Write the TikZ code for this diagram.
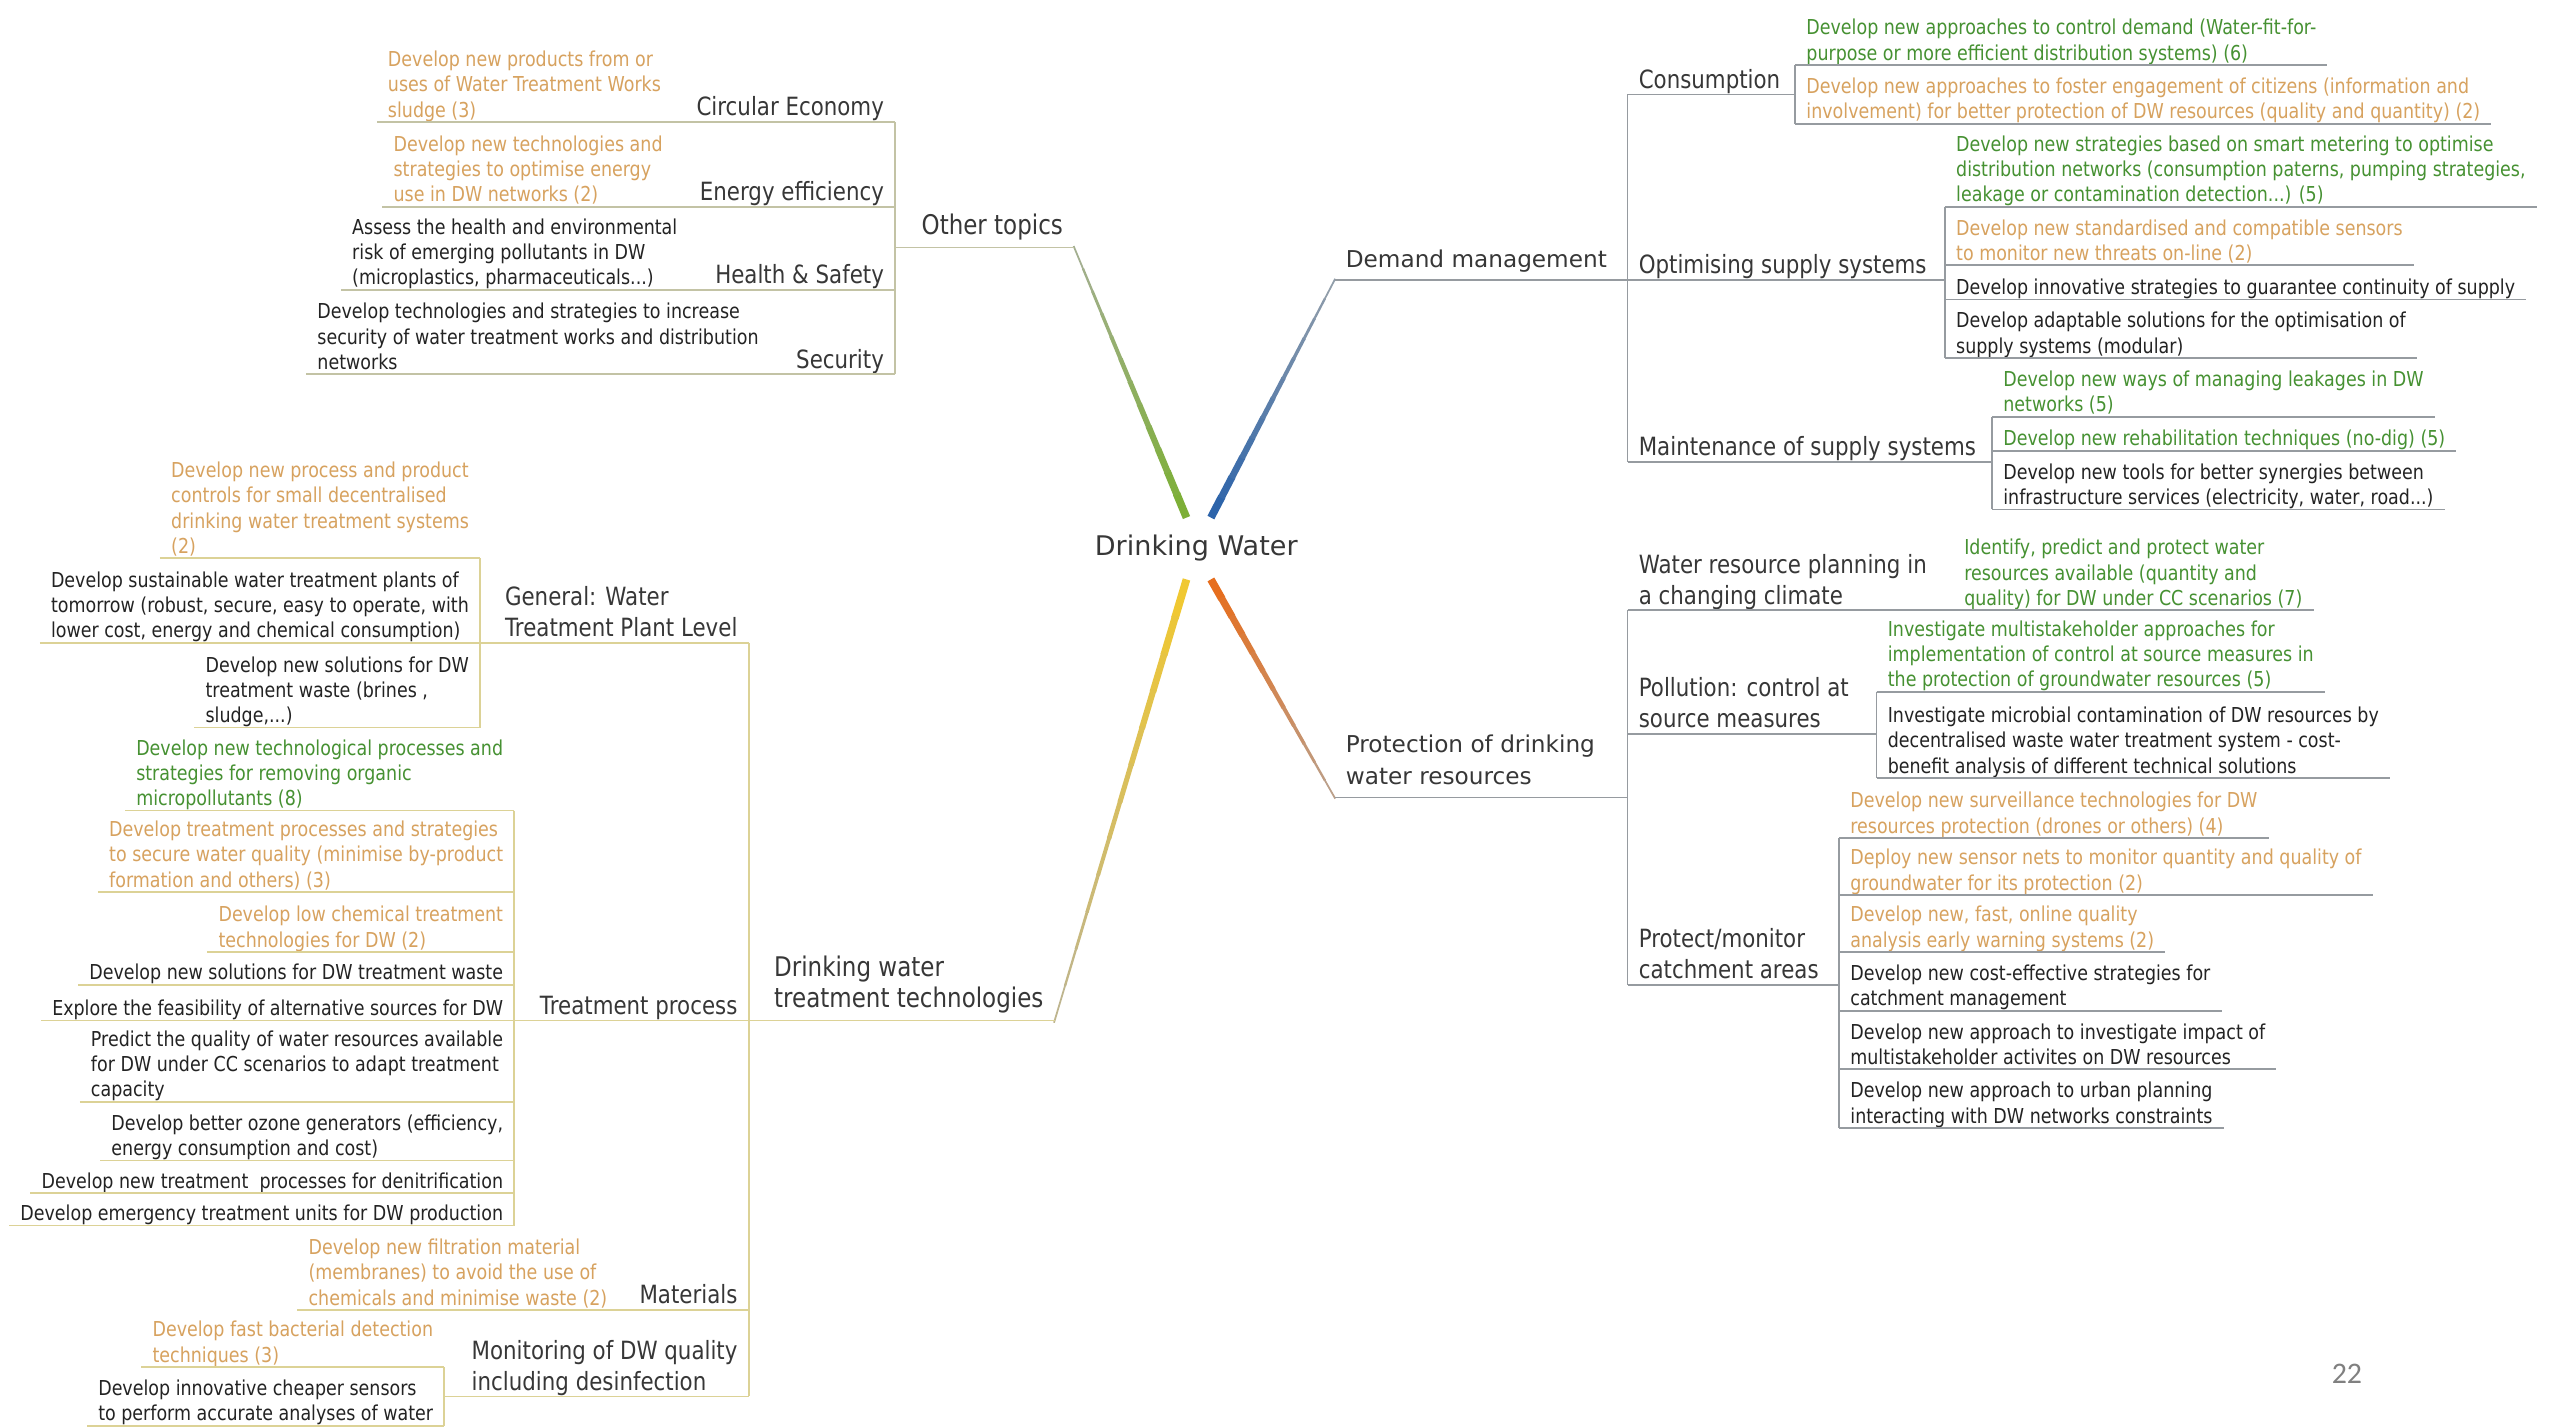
\documentclass[tikz,border=0pt]{standalone}
\usepackage{fontspec}
\usetikzlibrary{calc}
\newfontfamily\leaffont[FakeStretch=0.85]{DejaVu Sans}
\newfontfamily\hubfont{DejaVu Sans}
\newfontfamily\numfont{Carlito}
\definecolor{brgreen}{RGB}{125,175,55}
\definecolor{brblue}{RGB}{45,100,170}
\definecolor{brorange}{RGB}{230,110,30}
\definecolor{bryellow}{RGB}{240,200,50}
\definecolor{linegray}{RGB}{175,175,170}
\definecolor{lineR}{RGB}{150,155,160}
\definecolor{lineL}{RGB}{220,210,150}
\definecolor{lineOT}{RGB}{195,195,165}
\definecolor{txtgreen}{RGB}{70,145,50}
\definecolor{txtorange}{RGB}{215,162,95}
\definecolor{txtdark}{RGB}{35,35,35}
\definecolor{txtlabel}{RGB}{55,55,55}
\begin{document}
\begin{tikzpicture}[x=0.016276cm, y=-0.016276cm,
    leafR/.style={anchor=south west, align=left, inner xsep=3pt, inner ysep=0.6pt, text depth=0.6pt,
                  font=\leaffont\fontsize{5.85}{7.2}\selectfont},
    leafL/.style={leafR, anchor=south east},
    sbrR/.style={anchor=south west, align=left, inner xsep=3pt, inner ysep=1pt, text depth=0.6pt,
                 text=txtlabel, font=\leaffont\fontsize{7.15}{8.8}\selectfont},
    sbrL/.style={sbrR, anchor=south east},
    mbr/.style={anchor=south west, align=left, inner xsep=3pt, inner ysep=1.6pt, text depth=1.8pt,
                text=txtlabel, font=\hubfont\fontsize{6.6}{9.3}\selectfont},
    tbr/.style={anchor=south east, align=left, inner xsep=3pt, inner ysep=1.6pt, text depth=1.8pt,
                text=txtlabel, font=\leaffont\fontsize{7.7}{8.9}\selectfont},
    gtxt/.style={text=txtgreen}, otxt/.style={text=txtorange}, ktxt/.style={text=txtdark},
    ulR/.style={draw=lineR, line width=0.5pt},
    ulL/.style={draw=lineL, line width=0.5pt},
    ulOT/.style={draw=lineOT, line width=0.5pt}]

    \fill[white] (0,0) rectangle (1568,877);
    \useasboundingbox (0,0) rectangle (1568,877);

    % Центр
    \node[text=txtlabel, font=\hubfont\fontsize{7.7}{9}\selectfont] (dw) at (735,337) {Drinking Water};
    \coordinate (hubOT) at (729,318);
    \coordinate (hubDM) at (744,318);
    \coordinate (hubPDW) at (744,356);
    \coordinate (hubDWTT) at (729,356);

    % Ветви
    \node[mbr] (dm) at (820,172) {Demand management};
    \node[mbr] (pdw) at (820,490) {Protection of drinking\\water resources};
    \node[tbr] (ot) at (660,152) {Other topics};
    \node[tbr] (dwtt) at (648,627) {Drinking water\\treatment technologies};

    % Demand management
    \node[sbrR] (cons) at (1000,58) {Consumption};
    \node[sbrR] (opt) at (1000,172) {Optimising supply systems};
    \node[sbrR] (mnt) at (1000,284) {Maintenance of supply systems};
    \node[leafR, gtxt] (cons1) at (1103,40) {Develop new approaches to control demand (Water-fit-for-\\purpose or more efficient distribution systems) (6)};
    \node[leafR, otxt] (cons2) at (1103,76) {Develop new approaches to foster engagement of citizens (information and\\involvement) for better protection of DW resources (quality and quantity) (2)};
    \node[leafR, gtxt] (opt1) at (1195,127) {Develop new strategies based on smart metering to optimise\\distribution networks (consumption paterns, pumping strategies,\\leakage or contamination detection...) (5)};
    \node[leafR, otxt] (opt2) at (1195,163) {Develop new standardised and compatible sensors\\to monitor new threats on-line (2)};
    \node[leafR, ktxt] (opt3) at (1195,184) {Develop innovative strategies to guarantee continuity of supply};
    \node[leafR, ktxt] (opt4) at (1195,220) {Develop adaptable solutions for the optimisation of\\supply systems (modular)};
    \node[leafR, gtxt] (mnt1) at (1224,256) {Develop new ways of managing leakages in DW\\networks (5)};
    \node[leafR, gtxt] (mnt2) at (1224,277) {Develop new rehabilitation techniques (no-dig) (5)};
    \node[leafR, ktxt] (mnt3) at (1224,313) {Develop new tools for better synergies between\\infrastructure services (electricity, water, road...)};

    % Protection of drinking water resources
    \node[sbrR] (wrp) at (1000,375) {Water resource planning in\\a changing climate};
    \node[sbrR] (pol) at (1000,451) {Pollution: control at\\source measures};
    \node[sbrR] (pmc) at (1000,605) {Protect/monitor\\catchment areas};
    \node[leafR, gtxt] (wrp1) at (1200,375) {Identify, predict and protect water\\resources available (quantity and\\quality) for DW under CC scenarios (7)};
    \node[leafR, gtxt] (pol1) at (1153,425) {Investigate multistakeholder approaches for\\implementation of control at source measures in\\the protection of groundwater resources (5)};
    \node[leafR, ktxt] (pol2) at (1153,478) {Investigate microbial contamination of DW resources by\\decentralised waste water treatment system - cost-\\benefit analysis of different technical solutions};
    \node[leafR, otxt] (pmc1) at (1130,515) {Develop new surveillance technologies for DW\\resources protection (drones or others) (4)};
    \node[leafR, otxt] (pmc2) at (1130,550) {Deploy new sensor nets to monitor quantity and quality of\\groundwater for its protection (2)};
    \node[leafR, otxt] (pmc3) at (1130,585) {Develop new, fast, online quality\\analysis early warning systems (2)};
    \node[leafR, ktxt] (pmc4) at (1130,621) {Develop new cost-effective strategies for\\catchment management};
    \node[leafR, ktxt] (pmc5) at (1130,657) {Develop new approach to investigate impact of\\multistakeholder activites on DW resources};
    \node[leafR, ktxt] (pmc6) at (1130,693) {Develop new approach to urban planning\\interacting with DW networks constraints};

    % Other topics
    \node[sbrL] (ce) at (550,75) {Circular Economy};
    \node[sbrL] (ee) at (550,127) {Energy efficiency};
    \node[sbrL] (hs) at (550,178) {Health \& Safety};
    \node[sbrL] (sec) at (550,230) {Security};
    \node[leafL, otxt] (ce1) at (413,75) {Develop new products from or\\uses of Water Treatment Works\\sludge (3)};
    \node[leafL, otxt] (ee1) at (414,127) {Develop new technologies and\\strategies to optimise energy\\use in DW networks (2)};
    \node[leafL, ktxt] (hs1) at (423,178) {Assess the health and environmental\\risk of emerging pollutants in DW\\(microplastics, pharmaceuticals...)};
    \node[leafL, ktxt] (sec1) at (473,230) {Develop technologies and strategies to increase\\security of water treatment works and distribution\\networks};

    % Drinking water treatment technologies
    \node[sbrL] (gen) at (460,395) {General: Water\\Treatment Plant Level};
    \node[sbrL] (tp) at (460,627) {Treatment process};
    \node[sbrL] (mat) at (460,805) {Materials};
    \node[sbrL] (mon) at (460,858) {Monitoring of DW quality\\including desinfection};
    \node[leafL, otxt] (gen1) at (295,343) {Develop new process and product\\controls for small decentralised\\drinking water treatment systems\\(2)};
    \node[leafL, ktxt] (gen2) at (295,395) {Develop sustainable water treatment plants of\\tomorrow (robust, secure, easy to operate, with\\lower cost, energy and chemical consumption)};
    \node[leafL, ktxt] (gen3) at (295,447) {Develop new solutions for DW\\treatment waste (brines ,\\sludge,...)};
    \node[leafL, gtxt] (tp1) at (316,498) {Develop new technological processes and\\strategies for removing organic\\micropollutants (8)};
    \node[leafL, otxt] (tp2) at (316,548) {Develop treatment processes and strategies\\to secure water quality (minimise by-product\\formation and others) (3)};
    \node[leafL, otxt] (tp3) at (316,585) {Develop low chemical treatment\\technologies for DW (2)};
    \node[leafL, ktxt] (tp4) at (316,605) {Develop new solutions for DW treatment waste};
    \node[leafL, ktxt] (tp5) at (316,627) {Explore the feasibility of alternative sources for DW};
    \node[leafL, ktxt] (tp6) at (316,677) {Predict the quality of water resources available\\for DW under CC scenarios to adapt treatment\\capacity};
    \node[leafL, ktxt] (tp7) at (316,713) {Develop better ozone generators (efficiency,\\energy consumption and cost)};
    \node[leafL, ktxt] (tp8) at (316,733) {Develop new treatment~ processes for denitrification};
    \node[leafL, ktxt] (tp9) at (316,753) {Develop emergency treatment units for DW production};
    \node[leafL, otxt] (mat1) at (380,805) {Develop new filtration material\\(membranes) to avoid the use of\\chemicals and minimise waste (2)};
    \node[leafL, otxt] (mon1) at (273,840) {Develop fast bacterial detection\\techniques (3)};
    \node[leafL, ktxt] (mon2) at (273,876) {Develop innovative cheaper sensors\\to perform accurate analyses of water};

    % Номер страницы
    \node[text=gray, font=\numfont\fontsize{8.5}{10}\selectfont] (pg) at (1442,844) {22};

    % Линии от центра
    \foreach \hub/\tip/\col in {hubOT/ot.south east/brgreen, hubDM/dm.south west/brblue,
                                hubPDW/pdw.south west/brorange, hubDWTT/dwtt.south east/bryellow} {
      \foreach \i in {0,...,11} {
        \pgfmathsetmacro\ta{\i/12}
        \pgfmathsetmacro\tb{(\i+1)/12+0.005}
        \pgfmathsetmacro\w{2.2-1.7*\i/11}
        \pgfmathtruncatemacro\c{100-7*\i}
        \draw[line width=\w pt, color=\col!\c!linegray] ($(\hub)!\ta!(\tip)$) -- ($(\hub)!\tb!(\tip)$);
      }
    }

    % Подчёркивания справа
    \draw[ulR] (dm.south west) -- (dm.south west -| cons.south west);
    \draw[ulR] (cons.south west) -- (mnt.south west);
    \draw[ulR] (cons.south west) -- (cons.south west -| cons1.south west);
    \draw[ulR] (opt.south west) -- (opt.south west -| opt1.south west);
    \draw[ulR] (mnt.south west) -- (mnt.south west -| mnt1.south west);
    \draw[ulR] (cons1.south west) -- (cons2.south west);
    \draw[ulR] (opt1.south west) -- (opt4.south west);
    \draw[ulR] (mnt1.south west) -- (mnt3.south west);
    \draw[ulR] (pdw.south west) -- (pdw.south west -| wrp.south west);
    \draw[ulR] (wrp.south west) -- (pmc.south west);
    \draw[ulR] (wrp.south west) -- (wrp1.south west);
    \draw[ulR] (pol.south west) -- (pol.south west -| pol1.south west);
    \draw[ulR] (pmc.south west) -- (pmc.south west -| pmc1.south west);
    \draw[ulR] (pol1.south west) -- (pol2.south west);
    \draw[ulR] (pmc1.south west) -- (pmc6.south west);
    \foreach \n in {cons1,cons2,opt1,opt2,opt3,opt4,mnt1,mnt2,mnt3,wrp1,pol1,pol2,pmc1,pmc2,pmc3,pmc4,pmc5,pmc6}
      \draw[ulR] (\n.south west) -- (\n.south east);

    % Подчёркивания слева
    \draw[ulOT] (ot.south east) -- (ot.south east -| ce.south east);
    \draw[ulOT] (ce.south east) -- (sec.south east);
    \draw[ulOT] (ce.south east) -- (ce1.south west);
    \draw[ulOT] (ee.south east) -- (ee1.south west);
    \draw[ulOT] (hs.south east) -- (hs1.south west);
    \draw[ulOT] (sec.south east) -- (sec1.south west);

    \draw[ulL] (dwtt.south east) -- (dwtt.south east -| gen.south east);
    \draw[ulL] (gen.south east) -- (mon.south east);
    \draw[ulL] (gen.south east) -- (gen.south east -| gen1.south east);
    \draw[ulL] (tp.south east) -- (tp.south east -| tp1.south east);
    \draw[ulL] (mat.south east) -- (mat1.south west);
    \draw[ulL] (mon.south east) -- (mon.south east -| mon1.south east);
    \draw[ulL] (gen1.south east) -- (gen3.south east);
    \draw[ulL] (tp1.south east) -- (tp9.south east);
    \draw[ulL] (mon1.south east) -- (mon2.south east);
    \foreach \n in {gen1,gen2,gen3,tp1,tp2,tp3,tp4,tp5,tp6,tp7,tp8,tp9,mon1,mon2}
      \draw[ulL] (\n.south west) -- (\n.south east);
\end{tikzpicture}
\end{document}
